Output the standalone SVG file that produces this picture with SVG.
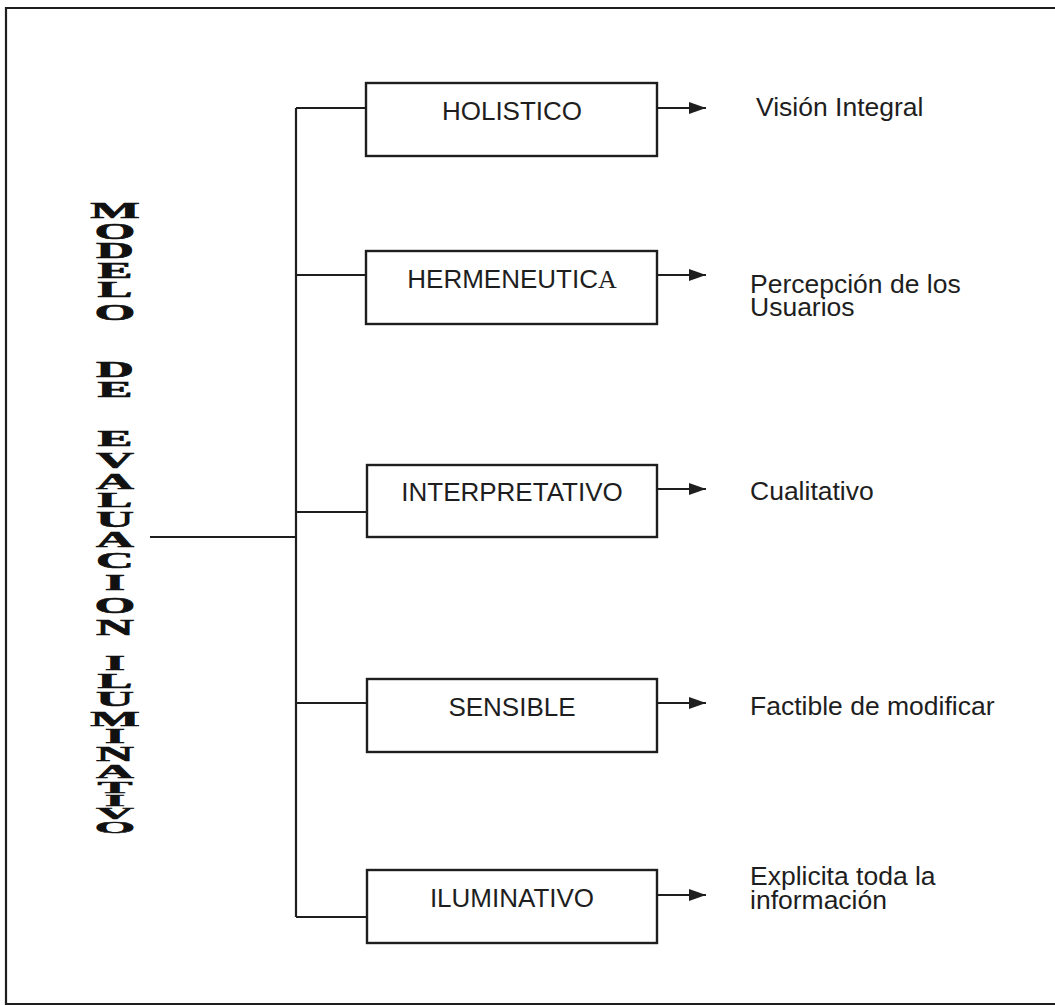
<svg xmlns="http://www.w3.org/2000/svg" width="1055" height="1006" viewBox="0 0 1055 1006">
<style>
.ln{stroke:#1e1e1e;stroke-width:2.2;fill:none}
.box{stroke:#1e1e1e;stroke-width:2.4;fill:#fff}
.bt{font-family:"Liberation Sans",Arial,sans-serif;font-size:26px;fill:#1e1e1e;text-anchor:middle}
.rt{font-family:"Liberation Sans",Arial,sans-serif;font-size:26.5px;fill:#1e1e1e}
.vl{font-family:"Liberation Serif","DejaVu Serif",serif;font-weight:bold;font-size:25px;fill:#111;stroke:#111;stroke-width:0.7;text-anchor:middle}
</style>
<defs>
<marker id="ah" markerWidth="17" markerHeight="12" refX="17" refY="6" orient="auto" markerUnits="userSpaceOnUse">
<path d="M0,0 L17,6 L0,12 Z" fill="#1e1e1e"/>
</marker>
</defs>
<rect x="0" y="0" width="1055" height="1006" fill="#fff"/>
<path class="ln" d="M1056,8 L6,8 L6,1004 L1056,1004" stroke-width="2.6"/>

<g id="title">
<text class="vl" transform="translate(115,218) scale(2.1,0.9)">M</text>
<text class="vl" transform="translate(115,239) scale(2.1,0.9)">O</text>
<text class="vl" transform="translate(115,258) scale(2.1,0.9)">D</text>
<text class="vl" transform="translate(115,278) scale(2.1,0.9)">E</text>
<text class="vl" transform="translate(115,297) scale(2.1,0.9)">L</text>
<text class="vl" transform="translate(115,320) scale(2.1,0.9)">O</text>
<text class="vl" transform="translate(115,377) scale(2.1,0.9)">D</text>
<text class="vl" transform="translate(115,397) scale(2.1,0.9)">E</text>
<text class="vl" transform="translate(115,446) scale(2.1,0.9)">E</text>
<text class="vl" transform="translate(115,468) scale(2.1,0.9)">V</text>
<text class="vl" transform="translate(115,489) scale(2.1,0.9)">A</text>
<text class="vl" transform="translate(115,507) scale(2.1,0.8)">L</text>
<text class="vl" transform="translate(115,527) scale(2.1,0.9)">U</text>
<text class="vl" transform="translate(115,547) scale(2.1,0.9)">A</text>
<text class="vl" transform="translate(115,568) scale(2.1,0.9)">C</text>
<text class="vl" transform="translate(115,590) scale(2.1,0.9)">I</text>
<text class="vl" transform="translate(115,613) scale(2.1,0.9)">O</text>
<text class="vl" transform="translate(115,635) scale(2.1,0.9)">N</text>
<text class="vl" transform="translate(115,670) scale(2.1,0.85)">I</text>
<text class="vl" transform="translate(115,688) scale(2.1,0.85)">L</text>
<text class="vl" transform="translate(115,706) scale(2.1,0.85)">U</text>
<text class="vl" transform="translate(115,726) scale(2.1,0.85)">M</text>
<text class="vl" transform="translate(115,743) scale(2.1,0.8)">I</text>
<text class="vl" transform="translate(115,761) scale(2.1,0.8)">N</text>
<text class="vl" transform="translate(115,778) scale(2.1,0.75)">A</text>
<text class="vl" transform="translate(115,793) scale(2.1,0.7)">T</text>
<text class="vl" transform="translate(115,806) scale(2.1,0.65)">I</text>
<text class="vl" transform="translate(115,819) scale(2.1,0.65)">V</text>
<text class="vl" transform="translate(115,833) scale(2.1,0.7)">O</text>
</g>

<g id="connectors">
<path class="ln" d="M150,537 H296"/>
<path class="ln" d="M296,108 V917"/>
<path class="ln" d="M296,108 H366"/>
<path class="ln" d="M296,275 H366"/>
<path class="ln" d="M296,512 H366"/>
<path class="ln" d="M296,703 H366"/>
<path class="ln" d="M296,917 H366"/>
<path class="ln" d="M657,108 H706" marker-end="url(#ah)"/>
<path class="ln" d="M657,275 H706" marker-end="url(#ah)"/>
<path class="ln" d="M657,489 H706" marker-end="url(#ah)"/>
<path class="ln" d="M657,703 H706" marker-end="url(#ah)"/>
<path class="ln" d="M657,895 H706" marker-end="url(#ah)"/>
</g>

<g id="n-holistico">
<rect class="box" x="366" y="83" width="291" height="73"/>
<text class="bt" x="512" y="120">HOLISTICO</text>
</g>
<g id="n-hermeneutica">
<rect class="box" x="366" y="251" width="291" height="73"/>
<text class="bt" x="512" y="288">HERMENEUTIC<tspan font-family="Liberation Serif, serif">A</tspan></text>
</g>
<g id="n-interpretativo">
<rect class="box" x="367" y="465" width="290" height="72"/>
<text class="bt" x="512" y="501">INTERPRETATIVO</text>
</g>
<g id="n-sensible">
<rect class="box" x="367" y="679" width="290" height="73"/>
<text class="bt" x="512" y="716">SENSIBLE</text>
</g>
<g id="n-iluminativo">
<rect class="box" x="367" y="870" width="290" height="73"/>
<text class="bt" x="512" y="907">ILUMINATIVO</text>
</g>

<g id="r-vision"><text class="rt" x="756" y="116">Visión Integral</text></g>
<g id="r-percepcion"><text class="rt" x="750" y="293">Percepción de los</text><text class="rt" x="750" y="316">Usuarios</text></g>
<g id="r-cualitativo"><text class="rt" x="750" y="500">Cualitativo</text></g>
<g id="r-factible"><text class="rt" x="750" y="715">Factible de modificar</text></g>
<g id="r-explicita"><text class="rt" x="750" y="885">Explicita toda la</text><text class="rt" x="750" y="909">información</text></g>
</svg>
